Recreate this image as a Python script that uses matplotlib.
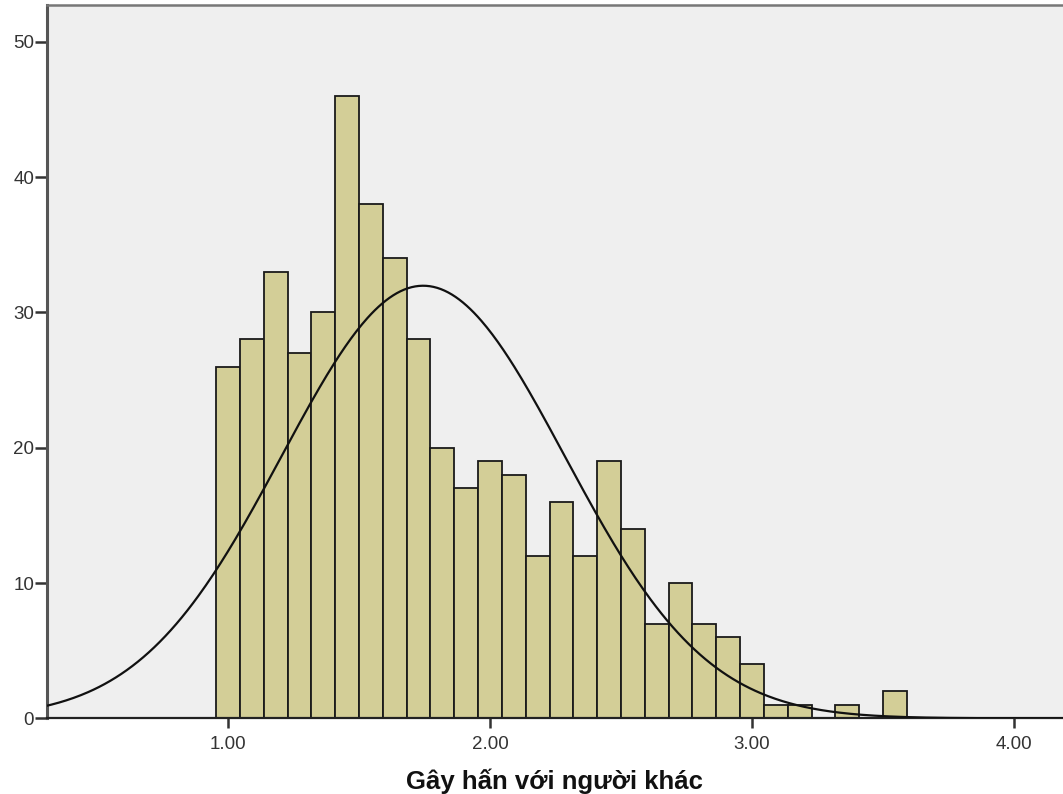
import numpy as np
import matplotlib
matplotlib.use("Agg")
import matplotlib.pyplot as plt

# Data
bin_width = 1.0 / 11
bin_centers = [1 + i / 11 for i in range(29)]
counts = [26, 28, 33, 27, 30, 46, 38, 34, 28, 20, 17, 19, 18, 12, 16, 12,
          19, 14, 7, 10, 7, 6, 4, 1, 1, 0, 1, 0, 2]
mean_val = 1.745
sd_val = 0.54
x_ticks = [1.0, 2.0, 3.0, 4.0]
x_tick_labels = ["1.00", "2.00", "3.00", "4.00"]
y_ticks = [0, 10, 20, 30, 40, 50]
x_label = "Gây hấn với người khác"

plt.rcParams['font.family'] = ['Liberation Sans', 'DejaVu Sans']

fig = plt.figure(figsize=(10.63, 7.94), dpi=100)
ax = fig.add_axes([0.0439, 0.0953, 0.9561, 0.8978])
ax.set_facecolor('#efefef')

ax.bar(bin_centers, counts, width=bin_width, color='#d3ce97',
       edgecolor='#1a1a1a', linewidth=1.3, zorder=2)

n = sum(counts)
xs = np.linspace(0.2, 4.4, 600)
ys = n * bin_width / (sd_val * np.sqrt(2 * np.pi)) * np.exp(-(xs - mean_val) ** 2 / (2 * sd_val ** 2))
ax.plot(xs, ys, color='#111111', linewidth=1.6, zorder=3)

ax.set_xlim(0.308, 4.187)
ax.set_ylim(0, 52.68)
ax.set_xticks(x_ticks)
ax.set_xticklabels(x_tick_labels)
ax.set_yticks(y_ticks)

ax.spines['right'].set_visible(False)
ax.spines['left'].set_color('#555555')
ax.spines['left'].set_linewidth(2.2)
ax.spines['bottom'].set_color('#222222')
ax.spines['bottom'].set_linewidth(1.6)
ax.spines['top'].set_color('#777777')
ax.spines['top'].set_linewidth(1.8)

ax.tick_params(axis='both', direction='out', colors='#333333', labelcolor='#333333',
               labelsize=13.5, width=1.8)
ax.tick_params(axis='y', length=8.5, pad=0.5)
ax.tick_params(axis='x', length=7, pad=6)

ax.set_xlabel(x_label, fontsize=18.5, fontweight='bold', color='#111111', labelpad=11)

fig.savefig("out.png", dpi=100)
